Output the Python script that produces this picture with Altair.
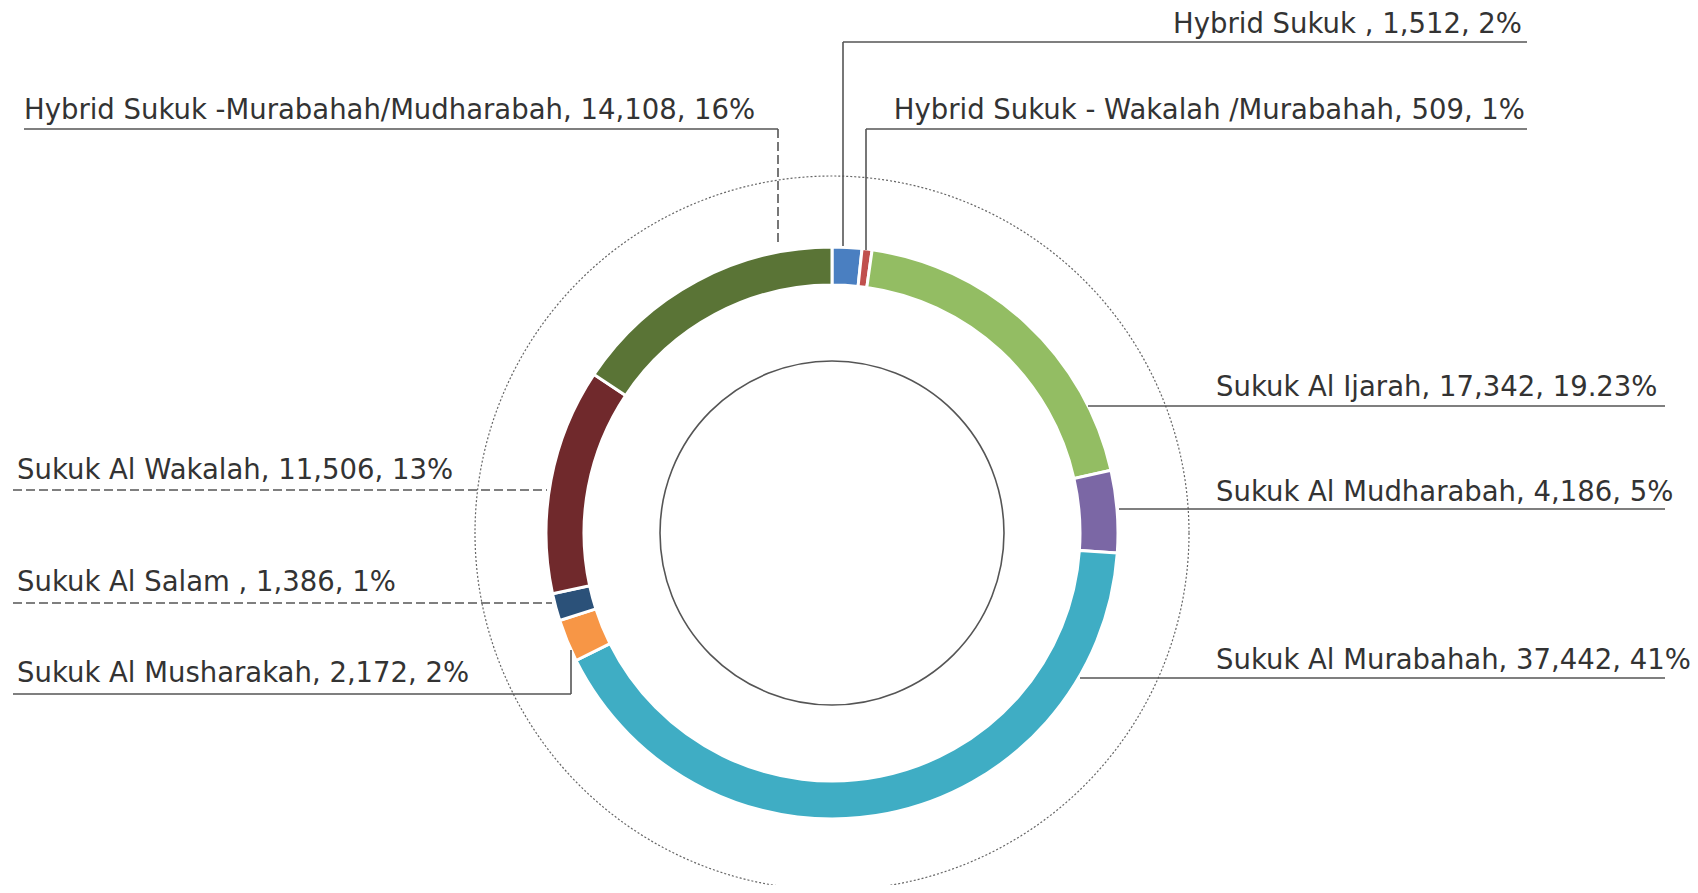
import altair as alt
import pandas as pd

# ---- data -------------------------------------------------------------
categories = [
    "Hybrid Sukuk ",
    "Hybrid Sukuk - Wakalah /Murabahah",
    "Sukuk Al Ijarah",
    "Sukuk Al Mudharabah",
    "Sukuk Al Murabahah",
    "Sukuk Al Musharakah",
    "Sukuk Al Salam ",
    "Sukuk Al Wakalah",
    "Hybrid Sukuk -Murabahah/Mudharabah",
]
values = [1512, 509, 17342, 4186, 37442, 2172, 1386, 11506, 14108]
pct_labels = ["2%", "1%", "19.23%", "5%", "41%", "2%", "1%", "13%", "16%"]
colors = ["#4a7fc1", "#c0504d", "#93bd63", "#7b67a5", "#3fadc4",
          "#f79646", "#2b5179", "#70292c", "#5a7436"]

# ---- layout (page pixel coordinates) ----------------------------------
W, H = 1682, 877
CX, CY = 832, 533
R_IN, R_OUT = 248, 286
R_INNER_CIRCLE, R_OUTER_CIRCLE = 172, 357

label_x = [1522, 1525, 1216, 1216, 1216, 17, 17, 17, 24]
label_y = [33, 119, 396, 501, 669, 682, 591, 479, 119]
label_align = ["right", "right", "left", "left", "left", "left", "left", "left", "left"]

solid_segments = [
    (843, 42, 1527, 42), (843, 42, 843, 246),
    (866, 129, 1527, 129), (866, 129, 866, 250),
    (24, 129, 778, 129),
    (1088, 406, 1665, 406),
    (1119, 509, 1665, 509),
    (1080, 678, 1665, 678),
    (13, 694, 571, 694), (571, 694, 571, 650),
]
dashed_segments = [
    (778, 129, 778, 244),
    (13, 490, 547, 490),
    (13, 603, 552, 603),
]

# ---- tables -------------------------------------------------------------
df = pd.DataFrame({
    "category": categories,
    "value": values,
    "idx": list(range(len(categories))),
})
df["label"] = [f"{c}, {v:,}, {p}" for c, v, p in zip(categories, values, pct_labels)]
df["lx"] = label_x
df["ly"] = label_y
df["align"] = label_align

seg_solid = pd.DataFrame(solid_segments, columns=["x", "y", "x2", "y2"])
seg_dash = pd.DataFrame(dashed_segments, columns=["x", "y", "x2", "y2"])
circles = pd.DataFrame({
    "cx": [CX, CX], "cy": [CY, CY],
    "size": [(2 * R_INNER_CIRCLE) ** 2, (2 * R_OUTER_CIRCLE) ** 2],
    "kind": ["inner", "outer"],
})

xs = alt.Scale(domain=[8, 8 + W], nice=False, zero=False)
ys = alt.Scale(domain=[8, 8 + H], nice=False, zero=False, reverse=True)

arc = alt.Chart(df).mark_arc(
    innerRadius=R_IN, outerRadius=R_OUT, stroke="white", strokeWidth=3
).encode(
    theta=alt.Theta("value:Q", stack=True),
    color=alt.Color("category:N", scale=alt.Scale(domain=categories, range=colors), legend=None),
    order=alt.Order("idx:Q"),
    x=alt.X(datum=CX, scale=xs, axis=None),
    y=alt.Y(datum=CY, scale=ys, axis=None),
)

inner_c = alt.Chart(circles[circles.kind == "inner"]).mark_point(
    shape="circle", filled=False, stroke="#555555", strokeWidth=1.6, opacity=1
).encode(
    x=alt.X("cx:Q", scale=xs, axis=None),
    y=alt.Y("cy:Q", scale=ys, axis=None),
    size=alt.Size("size:Q", scale=None, legend=None),
)
outer_c = alt.Chart(circles[circles.kind == "outer"]).mark_point(
    shape="circle", filled=False, stroke="#666666", strokeWidth=1.2, opacity=1,
    strokeDash=[2, 2]
).encode(
    x=alt.X("cx:Q", scale=xs, axis=None),
    y=alt.Y("cy:Q", scale=ys, axis=None),
    size=alt.Size("size:Q", scale=None, legend=None),
)

rules_solid = alt.Chart(seg_solid).mark_rule(color="#555555", strokeWidth=1.6).encode(
    x=alt.X("x:Q", scale=xs, axis=None), y=alt.Y("y:Q", scale=ys, axis=None),
    x2="x2:Q", y2="y2:Q",
)
rules_dash = alt.Chart(seg_dash).mark_rule(color="#555555", strokeWidth=1.6, strokeDash=[9, 4]).encode(
    x=alt.X("x:Q", scale=xs, axis=None), y=alt.Y("y:Q", scale=ys, axis=None),
    x2="x2:Q", y2="y2:Q",
)

def text_layer(align):
    return alt.Chart(df[df["align"] == align]).mark_text(
        align=align, baseline="alphabetic", font="DejaVu Sans", fontSize=27.5, color="#333333"
    ).encode(
        x=alt.X("lx:Q", scale=xs, axis=None),
        y=alt.Y("ly:Q", scale=ys, axis=None),
        text="label:N",
    )

chart = alt.layer(
    outer_c, inner_c, arc, rules_solid, rules_dash, text_layer("left"), text_layer("right")
).properties(
    width=W, height=H, padding=0, autosize=alt.AutoSizeParams(type="none")
).configure(
    background="white", view=alt.ViewConfig(stroke=None)
)

chart.save("out.html", embed_options={"renderer": "svg", "actions": False})
